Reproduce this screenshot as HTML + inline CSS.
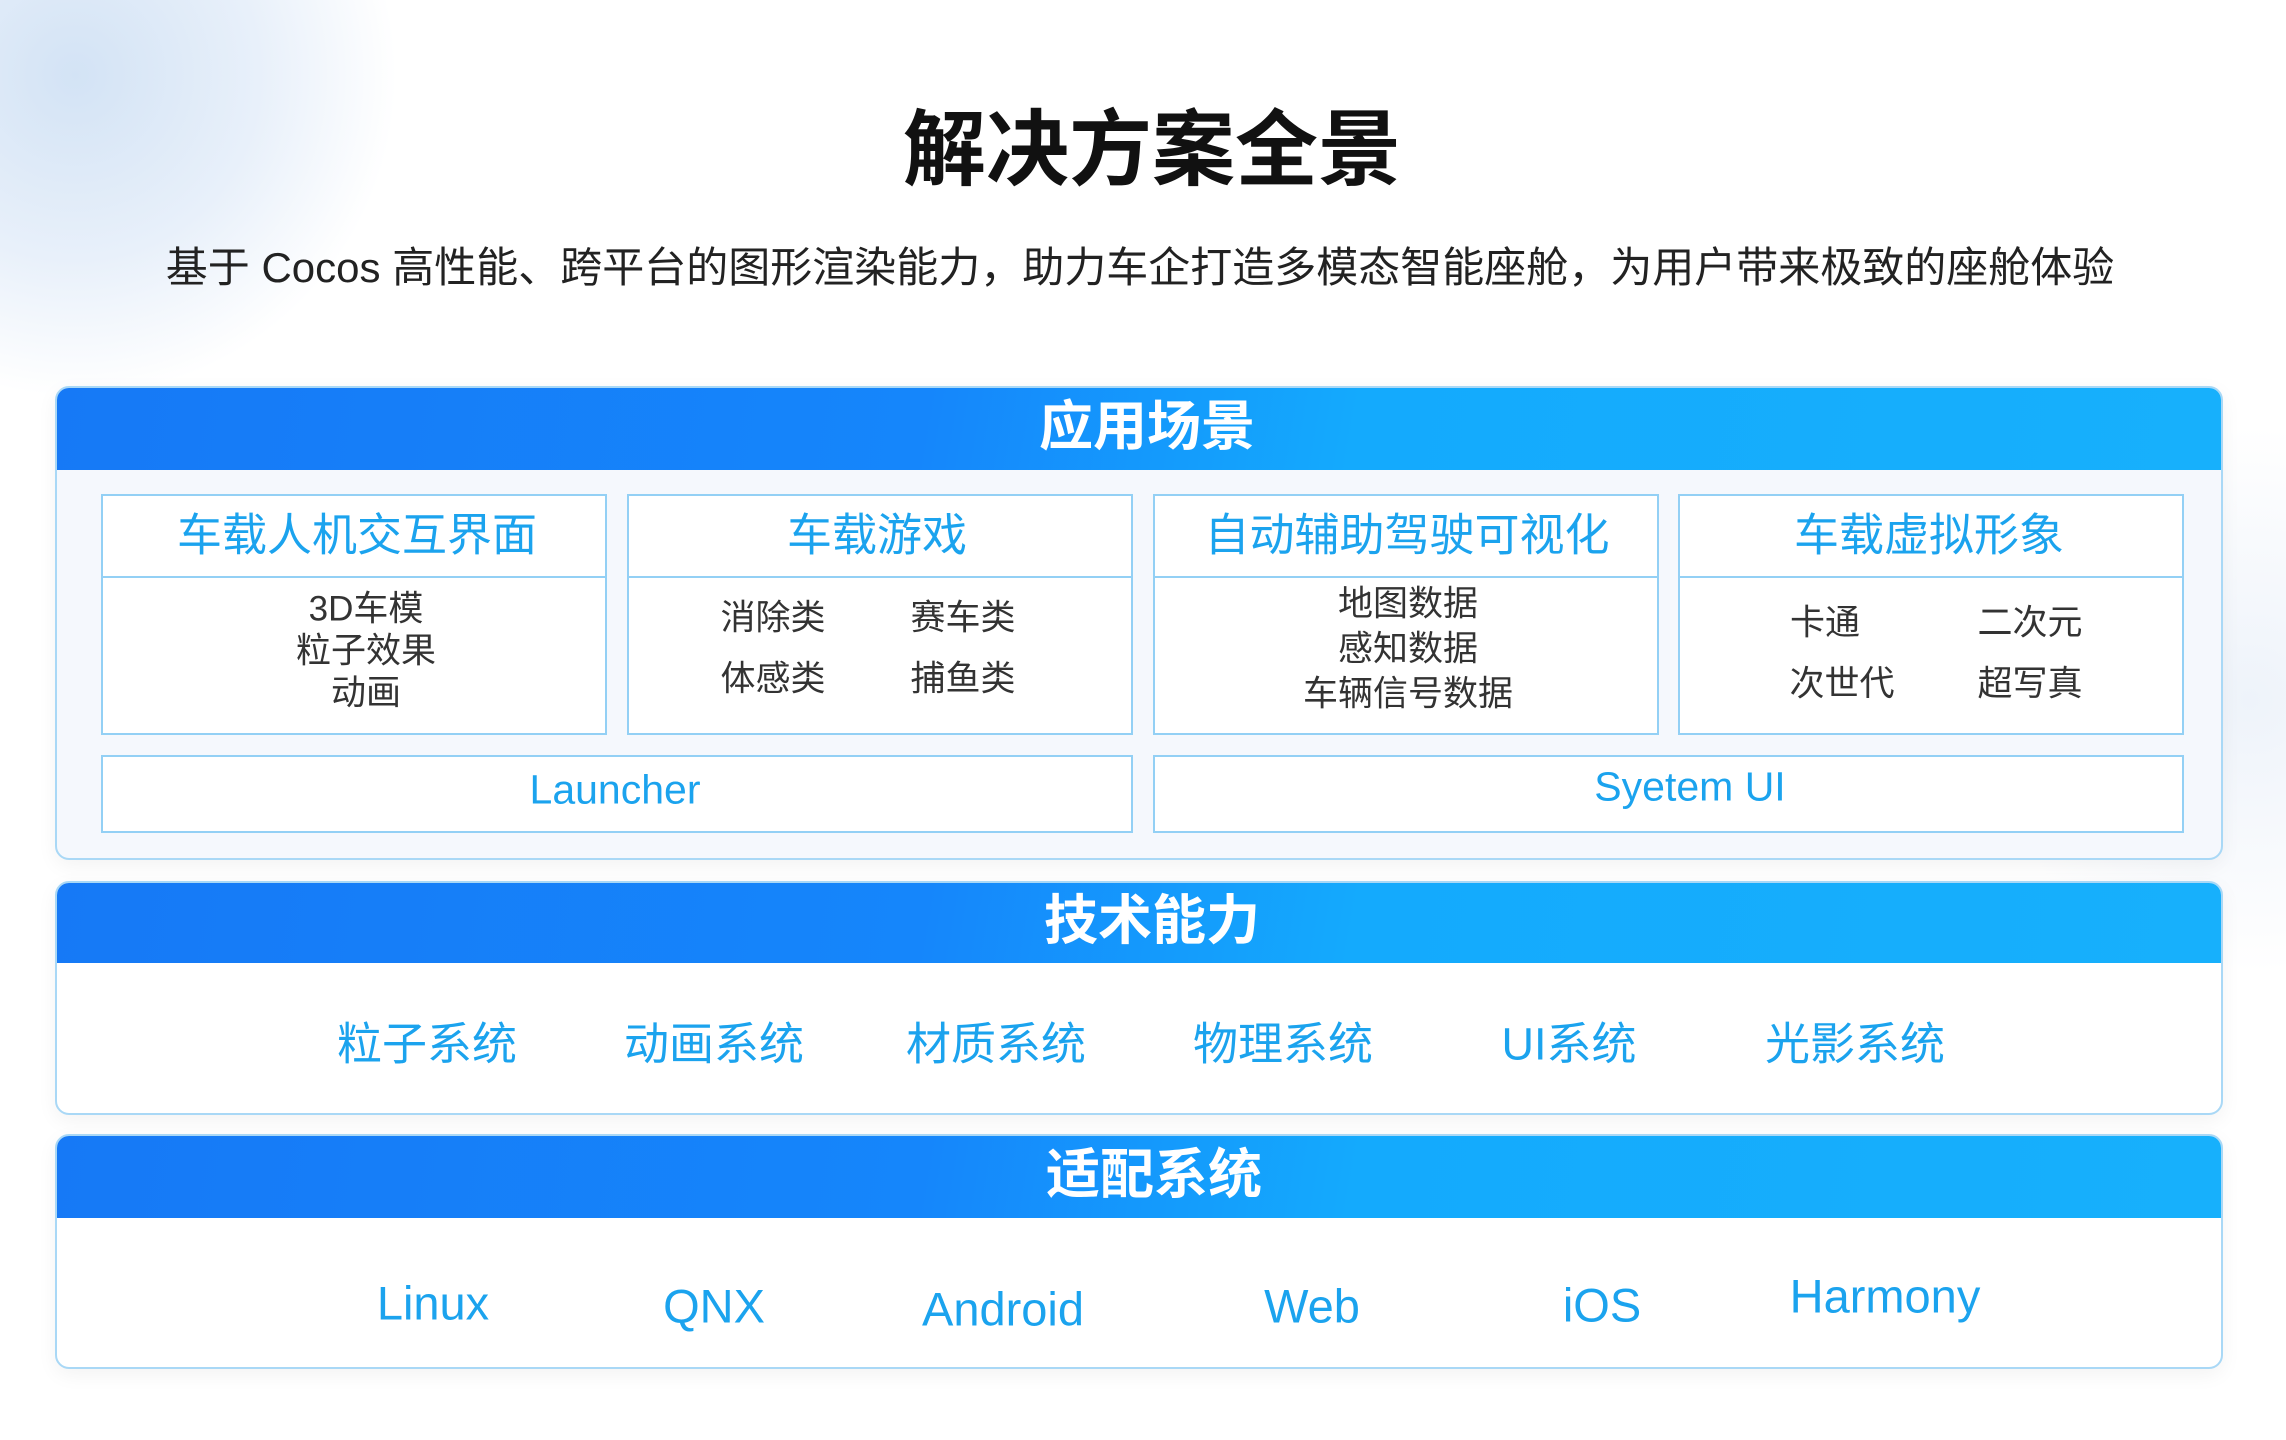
<!DOCTYPE html>
<html><head><meta charset="utf-8">
<style>
*{margin:0;padding:0;box-sizing:border-box}
body{width:2286px;height:1440px;position:relative;overflow:hidden;background:#fff;font-family:"Liberation Sans","Noto Sans CJK SC",sans-serif}
.bg1{position:absolute;left:-250px;top:-250px;width:650px;height:650px;border-radius:50%;background:radial-gradient(circle,#d3e3f5 0%,#e8f0fa 40%,rgba(255,255,255,0) 70%)}
.bg2{position:absolute;left:2000px;top:400px;width:500px;height:600px;border-radius:50%;background:radial-gradient(circle,#eef3fa 0%,rgba(255,255,255,0) 70%)}
.t{position:absolute;transform:translate(-50%,-50%);white-space:nowrap;line-height:1}
.panel{position:absolute;left:55px;width:2168px;border:2px solid #a9d8f6;border-radius:14px;overflow:hidden;background:#fff;box-shadow:0 6px 20px rgba(0,0,0,0.05)}
.hd{position:absolute;left:0;top:0;right:0;background:linear-gradient(100deg,#1679f6 0%,#1586fb 40%,#14aafd 60%,#17b0fc 100%)}
.box{position:absolute;border:2px solid #93d0f5;background:#fff}
.div{position:absolute;left:0;right:0;top:80px;border-top:2px solid #93d0f5}
.wh{color:#fff;font-size:54px;font-weight:bold}
.bl{color:#1ba3ee}
.dk{color:#333;font-size:35px}
</style></head><body>
<div class="bg1"></div><div class="bg2"></div>
<div class="t" style="left:1152px;top:150px;font-size:83px;font-weight:bold;color:#111">解决方案全景</div>
<div class="t" style="left:1140px;top:268px;font-size:42px;color:#222">基于 Cocos 高性能、跨平台的图形渲染能力，助力车企打造多模态智能座舱，为用户带来极致的座舱体验</div>

<div class="panel" style="top:386px;height:474px;background:#f5f8fd">
 <div class="hd" style="height:82px"></div>
</div>
<div class="t wh" style="left:1147px;top:427px">应用场景</div>
<div class="box" style="left:101px;top:494px;width:506px;height:241px"><div class="div"></div></div>
<div class="box" style="left:627px;top:494px;width:506px;height:241px"><div class="div"></div></div>
<div class="box" style="left:1153px;top:494px;width:506px;height:241px"><div class="div"></div></div>
<div class="box" style="left:1678px;top:494px;width:506px;height:241px"><div class="div"></div></div>
<div class="box" style="left:101px;top:755px;width:1032px;height:78px"></div>
<div class="box" style="left:1153px;top:755px;width:1031px;height:78px"></div>
<div class="t bl" style="left:357px;top:535px;font-size:45px">车载人机交互界面</div>
<div class="t bl" style="left:877px;top:535px;font-size:45px">车载游戏</div>
<div class="t bl" style="left:1407px;top:535px;font-size:45px">自动辅助驾驶可视化</div>
<div class="t bl" style="left:1929px;top:535px;font-size:45px">车载虚拟形象</div>
<div class="t dk" style="left:366px;top:609px">3D车模</div>
<div class="t dk" style="left:366px;top:651px">粒子效果</div>
<div class="t dk" style="left:366px;top:693px">动画</div>
<div class="t dk" style="left:773px;top:618px">消除类</div>
<div class="t dk" style="left:963px;top:618px">赛车类</div>
<div class="t dk" style="left:773px;top:679px">体感类</div>
<div class="t dk" style="left:963px;top:679px">捕鱼类</div>
<div class="t dk" style="left:1408px;top:604px">地图数据</div>
<div class="t dk" style="left:1408px;top:649px">感知数据</div>
<div class="t dk" style="left:1408px;top:694px">车辆信号数据</div>
<div class="t dk" style="left:1825px;top:623px">卡通</div>
<div class="t dk" style="left:2030px;top:623px">二次元</div>
<div class="t dk" style="left:1842px;top:684px">次世代</div>
<div class="t dk" style="left:2030px;top:684px">超写真</div>
<div class="t bl" style="left:615px;top:790px;font-size:41px">Launcher</div>
<div class="t bl" style="left:1690px;top:787px;font-size:41px">Syetem UI</div>

<div class="panel" style="top:881px;height:234px">
 <div class="hd" style="height:80px"></div>
</div>
<div class="t wh" style="left:1152px;top:921px">技术能力</div>
<div class="t bl" style="left:427px;top:1044px;font-size:45px">粒子系统</div>
<div class="t bl" style="left:714px;top:1044px;font-size:45px">动画系统</div>
<div class="t bl" style="left:996px;top:1044px;font-size:45px">材质系统</div>
<div class="t bl" style="left:1283px;top:1044px;font-size:45px">物理系统</div>
<div class="t bl" style="left:1569px;top:1044px;font-size:45px">UI系统</div>
<div class="t bl" style="left:1855px;top:1044px;font-size:45px">光影系统</div>

<div class="panel" style="top:1134px;height:235px">
 <div class="hd" style="height:82px"></div>
</div>
<div class="t wh" style="left:1154px;top:1175px">适配系统</div>
<div class="t bl" style="left:433px;top:1303px;font-size:47px">Linux</div>
<div class="t bl" style="left:714px;top:1306px;font-size:47px">QNX</div>
<div class="t bl" style="left:1003px;top:1309px;font-size:47px">Android</div>
<div class="t bl" style="left:1312px;top:1306px;font-size:47px">Web</div>
<div class="t bl" style="left:1602px;top:1305px;font-size:47px">iOS</div>
<div class="t bl" style="left:1885px;top:1296px;font-size:47px">Harmony</div>
</body></html>
